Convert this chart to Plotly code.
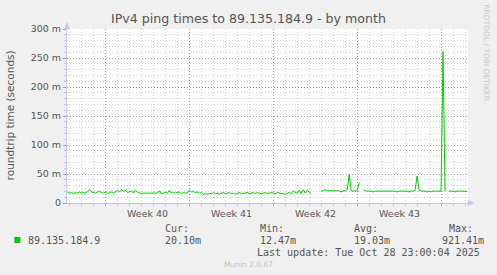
import plotly.graph_objects as go
import pandas as pd

# ---------------- data (ms), one sample every 4 hours ----------------
start_time = "2025-09-25 20:00"
step = "4h"
seg1 = [18, 17, 18, 16, 18, 17, 19, 17, 18, 17, 20, 23,
        19, 18, 17, 19, 20, 18, 17, 19, 16, 18, 19, 17, 20,
        22, 19, 23, 20, 22, 18, 19, 21, 17, 22, 19, 18, 16,
        17, 17, 16, 17, 17, 16, 17, 17, 21, 16, 17, 18, 17,
        22, 17, 18, 17, 18, 19, 16, 18, 17, 18, 22, 19, 20,
        18, 19, 17, 18, 15, 16, 15, 17, 16, 18, 16, 17, 15,
        17, 18, 16, 17, 18, 16, 17, 15, 17, 18, 16, 17, 17,
        18, 16, 17, 18, 16, 18, 17, 16, 17, 18, 16, 17, 18,
        17, 16, 18, 17, 17, 16, 15, 17, 18, 16, 21, 18, 17,
        22, 16, 23, 17, 22, 18, 16]
gap1 = [None, None, None, None]
seg2 = [21, 21, 23, 21, 21, 21, 21, 21, 21, 21, 19, 21, 21, 23, 49.5, 21,
        20.5, 20.5, 21, 35]
gap2 = [None]
seg3 = [23, 21, 20.5, 20.5, 20.5, 19, 20.5, 20.5, 20.5, 20.5, 20.5, 20.5,
        20.5, 20.5, 20.5, 20.5, 20.5, 19, 20.5, 20.5, 20.5, 20.5, 20.5, 19,
        20.5, 20.5, 22, 46.5, 22, 20.5, 20.5, 20.5, 19, 20.5, 19, 20.5,
        20.5, 20.5, 20.5, 20.5, 261, 20]
gap3 = [None]
seg4 = [20.5, 20.5, 20.5, 19, 20.5, 20.5, 20.5, 20.5, 20.5, 20.1]
ping_ms = seg1 + gap1 + seg2 + gap2 + seg3 + gap3 + seg4
times = pd.date_range(start_time, periods=len(ping_ms), freq=step)

x_range = ["2025-09-25 18:48", "2025-10-29 06:00"]
week_starts = ["2025-09-29", "2025-10-06", "2025-10-13", "2025-10-20", "2025-10-27"]
week_mids = ["2025-10-02 12:00", "2025-10-09 12:00", "2025-10-16 12:00", "2025-10-23 12:00"]
week_labels = ["Week 40", "Week 41", "Week 42", "Week 43"]
y_ticks = [0, 50, 100, 150, 200, 250, 300]
y_ticktext = ["0", "50 m", "100 m", "150 m", "200 m", "250 m", "300 m"]

series_name = "89.135.184.9"
stat_heads = ["Cur:", "Min:", "Avg:", "Max:"]
stat_vals = ["20.10m", "12.47m", "19.03m", "921.41m"]
title = "IPv4 ping times to 89.135.184.9 - by month"
last_update = "Last update: Tue Oct 28 23:00:04 2025"

# ---------------- layout geometry (pixels) ----------------
W, H = 497, 275
L, R, T, B = 66.7, 468.3, 29, 203


def px(xp):
    return (xp - L) / (R - L)


def py(yp):
    return (B - yp) / (B - T)


SANS = "DejaVu Sans"
MONO = "DejaVu Sans Mono"
TXT = "#555555"
GRID = "#cfcfcf"
MGRID = "#df8585"
AXIS = "#c6c6f2"
DOT = "1px,2px"

fig = go.Figure()
fig.add_trace(go.Scatter(x=times, y=ping_ms, mode="lines",
                         line=dict(color="#00cc00", width=1),
                         connectgaps=False, hoverinfo="skip", showlegend=False))

fig.update_layout(
    width=W, height=H,
    margin=dict(l=L, r=W - R, t=T, b=H - B, pad=0),
    paper_bgcolor="#f0f0f0", plot_bgcolor="#ffffff",
    showlegend=False,
    xaxis=dict(type="date", range=x_range, tickvals=week_starts, showticklabels=False,
               showgrid=True, gridcolor=MGRID, griddash=DOT, gridwidth=1,
               ticks="outside", ticklen=2, tickcolor=MGRID,
               minor=dict(dtick=86400000, showgrid=True, gridcolor=GRID, griddash=DOT,
                          ticks="outside", ticklen=2, tickcolor="#c8c8c8"),
               showline=True, linecolor=AXIS, linewidth=1, zeroline=False, fixedrange=True),
    yaxis=dict(range=[0, 300], tickvals=y_ticks, ticktext=y_ticktext,
               tickfont=dict(family=SANS, size=9.5, color=TXT),
               showgrid=True, gridcolor=MGRID, griddash=DOT, gridwidth=1,
               ticks="outside", ticklen=3, tickcolor=MGRID,
               minor=dict(dtick=10, showgrid=True, gridcolor=GRID, griddash=DOT,
                          ticks="outside", ticklen=2, tickcolor="#c8c8c8"),
               showline=True, linecolor=AXIS, linewidth=1, zeroline=False, fixedrange=True),
)

ann = []
# title
ann.append(dict(text=title, x=px(248), y=py(19), xref="paper", yref="paper",
                xanchor="center", yanchor="middle", showarrow=False,
                font=dict(family=SANS, size=12.6, color=TXT)))
# y axis title
ann.append(dict(text="roundtrip time (seconds)", x=px(10), y=py(115), xref="paper", yref="paper",
                xanchor="center", yanchor="middle", textangle=-90, showarrow=False,
                font=dict(family=SANS, size=10.5, color=TXT)))
# watermark
ann.append(dict(text="RRDTOOL / TOBI OETIKER", x=px(487), y=py(53), xref="paper", yref="paper",
                xanchor="center", yanchor="middle", textangle=90, showarrow=False,
                font=dict(family=SANS, size=7.5, color="#c8c8c8")))
# week labels
for d, lab in zip(week_mids, week_labels):
    ann.append(dict(text=lab, x=d, y=py(213), xref="x", yref="paper",
                    xanchor="center", yanchor="middle", showarrow=False,
                    font=dict(family=SANS, size=9.5, color=TXT)))
# legend
ann.append(dict(text=series_name, x=px(26), y=py(240), xref="paper", yref="paper",
                xanchor="left", yanchor="middle", showarrow=False,
                font=dict(family=MONO, size=10, color=TXT)))
head_x = [163, 258, 352, 447]
val_x = [163, 258, 352, 440.5]
for hx, vx, h, v in zip(head_x, val_x, stat_heads, stat_vals):
    ann.append(dict(text=h, x=px(hx), y=py(228), xref="paper", yref="paper",
                    xanchor="left", yanchor="middle", showarrow=False,
                    font=dict(family=MONO, size=10, color=TXT)))
    ann.append(dict(text=v, x=px(vx), y=py(240), xref="paper", yref="paper",
                    xanchor="left", yanchor="middle", showarrow=False,
                    font=dict(family=MONO, size=10, color=TXT)))
ann.append(dict(text=last_update, x=px(482.5), y=py(252), xref="paper", yref="paper",
                xanchor="right", yanchor="middle", showarrow=False,
                font=dict(family=MONO, size=10, color=TXT)))
ann.append(dict(text="Munin 2.0.67", x=px(248), y=py(264), xref="paper", yref="paper",
                xanchor="center", yanchor="middle", showarrow=False,
                font=dict(family=SANS, size=7.5, color="#c4c4c4")))
fig.update_layout(annotations=ann)

shapes = []
# legend colour box
shapes.append(dict(type="rect", xref="paper", yref="paper",
                   x0=px(14), x1=px(20), y0=py(237), y1=py(243),
                   fillcolor="#00cc00", line=dict(width=0)))
# axis arrows
shapes.append(dict(type="path", xref="paper", yref="paper",
                   path=f"M {px(63.7)} {py(29)} L {px(69.7)} {py(29)} L {px(66.7)} {py(22)} Z",
                   fillcolor=AXIS, line=dict(width=0)))
shapes.append(dict(type="path", xref="paper", yref="paper",
                   path=f"M {px(468)} {py(200)} L {px(468)} {py(206)} L {px(475)} {py(203)} Z",
                   fillcolor=AXIS, line=dict(width=0)))
fig.update_layout(shapes=shapes)

fig.write_html("out.html", config={"displayModeBar": False})
